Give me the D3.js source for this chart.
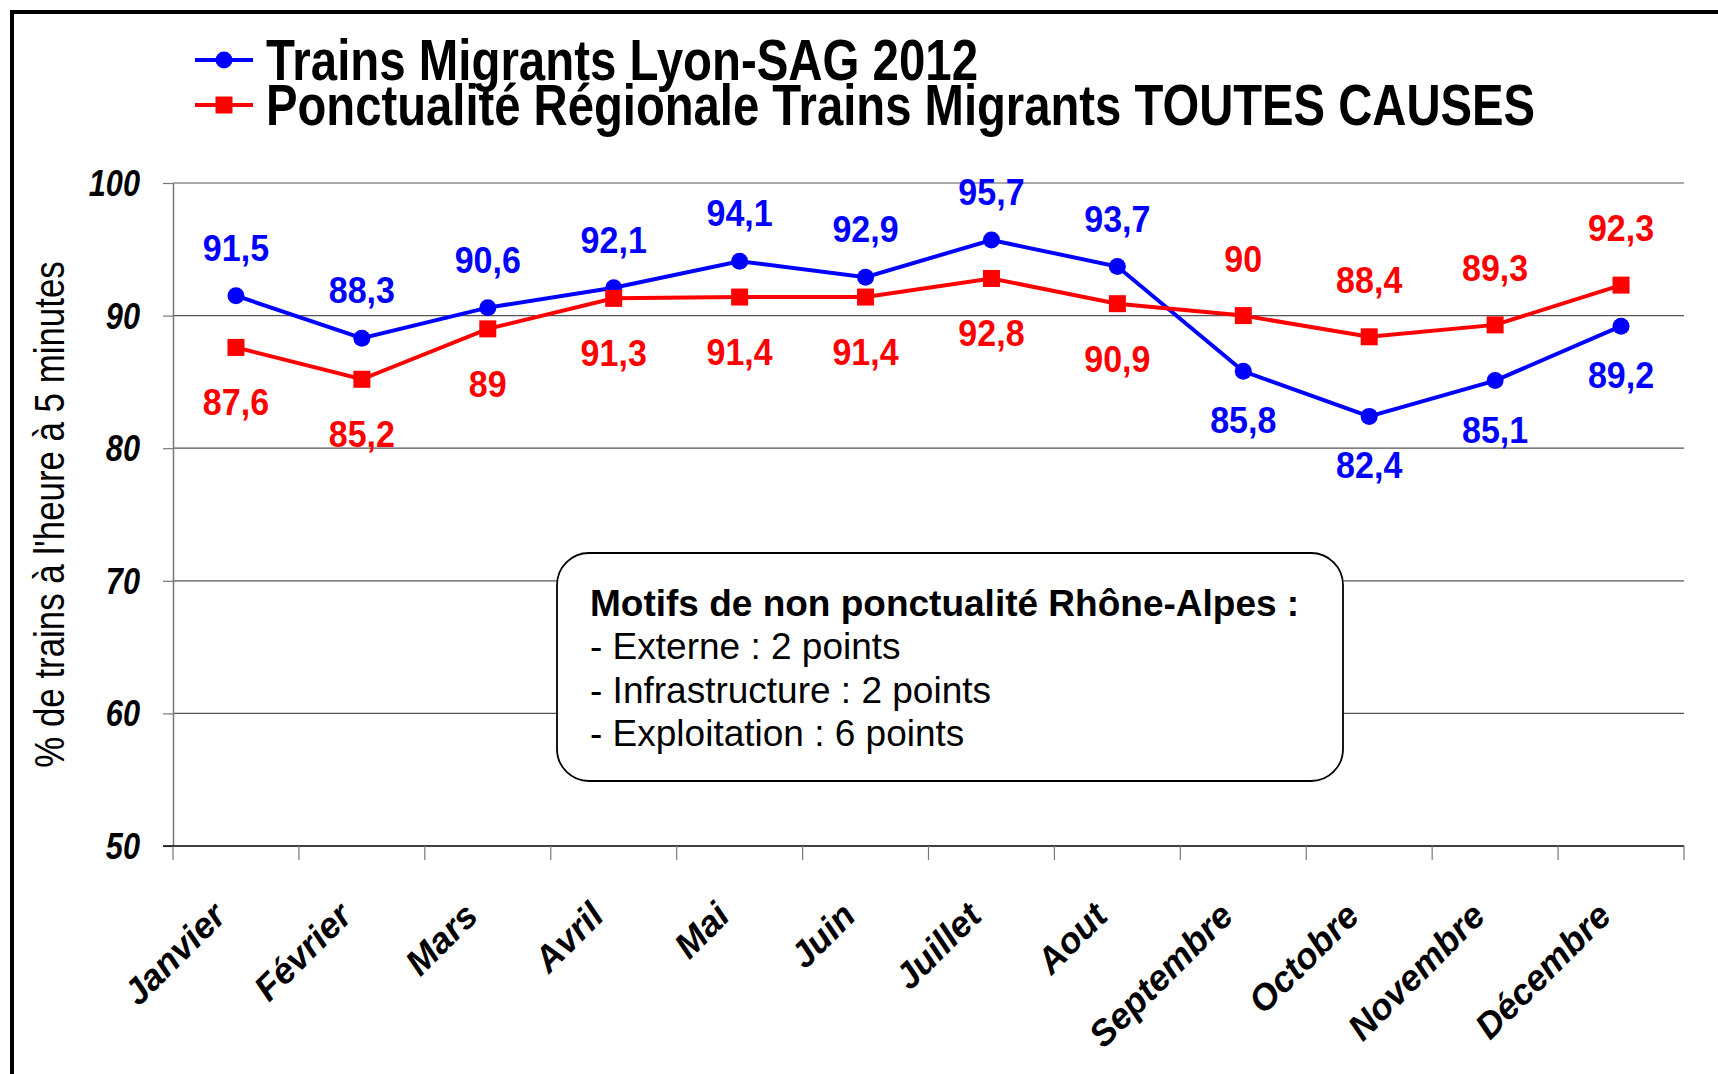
<!DOCTYPE html>
<html>
<head>
<meta charset="utf-8">
<script src="https://cdn.jsdelivr.net/npm/d3@7"></script>
<style>
  body { margin: 0; background: #fff; }
  svg { display: block; }
  .sans { font-family: "Liberation Sans", Arial, sans-serif; }
</style>
</head>
<body>
<svg id="chart"></svg>
<script>
// data
const months = ["Janvier", "Février", "Mars", "Avril", "Mai", "Juin", "Juillet", "Aout",
                "Septembre", "Octobre", "Novembre", "Décembre"];
const lyonSag = [91.5, 88.3, 90.6, 92.1, 94.1, 92.9, 95.7, 93.7, 85.8, 82.4, 85.1, 89.2];
const regional = [87.6, 85.2, 89, 91.3, 91.4, 91.4, 92.8, 90.9, 90, 88.4, 89.3, 92.3];
const yTicks = [50, 60, 70, 80, 90, 100];
const seriesNames = ["Trains Migrants Lyon-SAG 2012",
                     "Ponctualité Régionale Trains Migrants TOUTES CAUSES"];
const yTitle = "% de trains à l'heure à 5 minutes";
const noteTitle = "Motifs de non ponctualité Rhône-Alpes :";
const noteLines = ["- Externe : 2 points", "- Infrastructure : 2 points", "- Exploitation : 6 points"];

const W = 1718, H = 1074;
const BLUE = "#0000ff", RED = "#ff0000";
const M = {left: 173, right: 1684, top: 183, bottom: 846};
const NARROW = 0.82; // no Arial Narrow here, squeeze Liberation Sans instead

const svg = d3.select("#chart").attr("width", W).attr("height", H);

const x = d3.scaleBand().domain(months).range([M.left, M.right]).padding(0);
const y = d3.scaleLinear().domain([50, 100]).range([M.bottom, M.top]);
const cx = (d, i) => x(months[i]) + x.bandwidth() / 2;
const fmt = v => String(v).replace(".", ",");

// outer frame (runs off the right and bottom of the picture)
svg.append("rect")
  .attr("x", 12).attr("y", 12)
  .attr("width", 1900).attr("height", 1300)
  .attr("fill", "none").attr("stroke", "#000").attr("stroke-width", 4);

// gridlines
svg.append("g")
  .selectAll("line")
  .data(yTicks.filter(v => v > 50))
  .join("line")
    .attr("x1", M.left).attr("x2", M.right)
    .attr("y1", d => y(d)).attr("y2", d => y(d))
    .attr("stroke", "#555").attr("stroke-width", 1.2);

// y axis
const yAxis = svg.append("g")
  .attr("transform", `translate(${M.left},0)`)
  .call(d3.axisLeft(y).tickValues(yTicks).tickSize(10).tickSizeOuter(0).tickFormat(""));
yAxis.select(".domain").attr("stroke", "#777").attr("stroke-width", 1.5);
yAxis.selectAll(".tick line").attr("stroke", "#777").attr("stroke-width", 1.2);

svg.append("g")
  .selectAll("text")
  .data(yTicks)
  .join("text")
    .attr("class", "sans")
    .attr("transform", d => `translate(140,${y(d) + 13}) scale(${NARROW},1)`)
    .attr("text-anchor", "end")
    .attr("font-size", 37.5).attr("font-weight", "bold").attr("font-style", "italic")
    .text(d => d);

// x axis: ticks sit on the category boundaries
const xAxis = svg.append("g")
  .attr("transform", `translate(0,${M.bottom})`);
xAxis.append("line")
  .attr("x1", M.left - 10).attr("x2", M.right)
  .attr("stroke", "#000").attr("stroke-width", 1.6);
xAxis.selectAll("line.tick")
  .data(months.map(m => x(m)).concat([M.right]))
  .join("line")
    .attr("class", "tick")
    .attr("x1", d => d).attr("x2", d => d)
    .attr("y1", 0).attr("y2", 14)
    .attr("stroke", "#777").attr("stroke-width", 1.2);
xAxis.selectAll("text")
  .data(months)
  .join("text")
    .attr("class", "sans")
    .attr("transform", (d, i) => `translate(${cx(d, i) - 8},72) rotate(-45)`)
    .attr("text-anchor", "end")
    .attr("font-size", 36).attr("font-weight", "bold").attr("font-style", "italic")
    .text(d => d);

// y title
svg.append("text")
  .attr("class", "sans")
  .attr("transform", `translate(64,${(M.top + M.bottom) / 2}) rotate(-90) scale(${NARROW},1)`)
  .attr("text-anchor", "middle")
  .attr("font-size", 42.5)
  .text(yTitle);

// series
const line = d3.line().x((d, i) => cx(d, i)).y(d => y(d));
const series = [
  {name: seriesNames[0], values: lyonSag, other: regional, color: BLUE, marker: "circle", up: -35, down: 62},
  {name: seriesNames[1], values: regional, other: lyonSag, color: RED, marker: "square", up: -44, down: 68}
];

function drawMarker(sel, s) {
  if (s.marker === "circle") {
    sel.append("circle").attr("r", 8.5).attr("fill", s.color);
  } else {
    sel.append("rect").attr("x", -8.5).attr("y", -8.5)
      .attr("width", 17).attr("height", 17).attr("fill", s.color);
  }
}

series.forEach(s => {
  const g = svg.append("g");
  g.append("path")
    .datum(s.values)
    .attr("d", line)
    .attr("fill", "none").attr("stroke", s.color).attr("stroke-width", 4);
  g.selectAll("g.pt")
    .data(s.values)
    .join("g")
      .attr("class", "pt")
      .attr("transform", (d, i) => `translate(${cx(d, i)},${y(d)})`)
      .each(function() { drawMarker(d3.select(this), s); });
  // label goes on the side away from the other series
  g.selectAll("text")
    .data(s.values)
    .join("text")
      .attr("class", "sans")
      .attr("transform", (d, i) =>
        `translate(${cx(d, i)},${y(d) + (d >= s.other[i] ? s.up : s.down)}) scale(0.92,1)`)
      .attr("text-anchor", "middle")
      .attr("font-size", 37).attr("font-weight", "bold")
      .attr("fill", s.color)
      .text(d => fmt(d));
});

// legend
const legend = svg.append("g");
const legendWidths = [712, 1269];
series.forEach((s, i) => {
  const ly = 60 + i * 45;
  legend.append("line")
    .attr("x1", 195).attr("x2", 253).attr("y1", ly).attr("y2", ly)
    .attr("stroke", s.color).attr("stroke-width", 4);
  drawMarker(legend.append("g").attr("transform", `translate(224,${ly})`), s);
  legend.append("text")
    .attr("class", "sans")
    .attr("x", 266).attr("y", 80 + i * 45)
    .attr("font-size", 58).attr("font-weight", "bold")
    .attr("textLength", legendWidths[i]).attr("lengthAdjust", "spacingAndGlyphs")
    .text(s.name);
});

// note box
const note = svg.append("g");
note.append("rect")
  .attr("x", 557).attr("y", 553).attr("width", 786).attr("height", 228)
  .attr("rx", 32).attr("ry", 32)
  .attr("fill", "#fff").attr("stroke", "#000").attr("stroke-width", 1.8);
note.append("text")
  .attr("class", "sans")
  .attr("x", 590).attr("y", 616)
  .attr("font-size", 37).attr("font-weight", "bold")
  .text(noteTitle);
note.selectAll("text.line")
  .data(noteLines)
  .join("text")
    .attr("class", "sans line")
    .attr("x", 590).attr("y", (d, i) => 659 + i * 43.5)
    .attr("font-size", 37)
    .text(d => d);
</script>
</body>
</html>
